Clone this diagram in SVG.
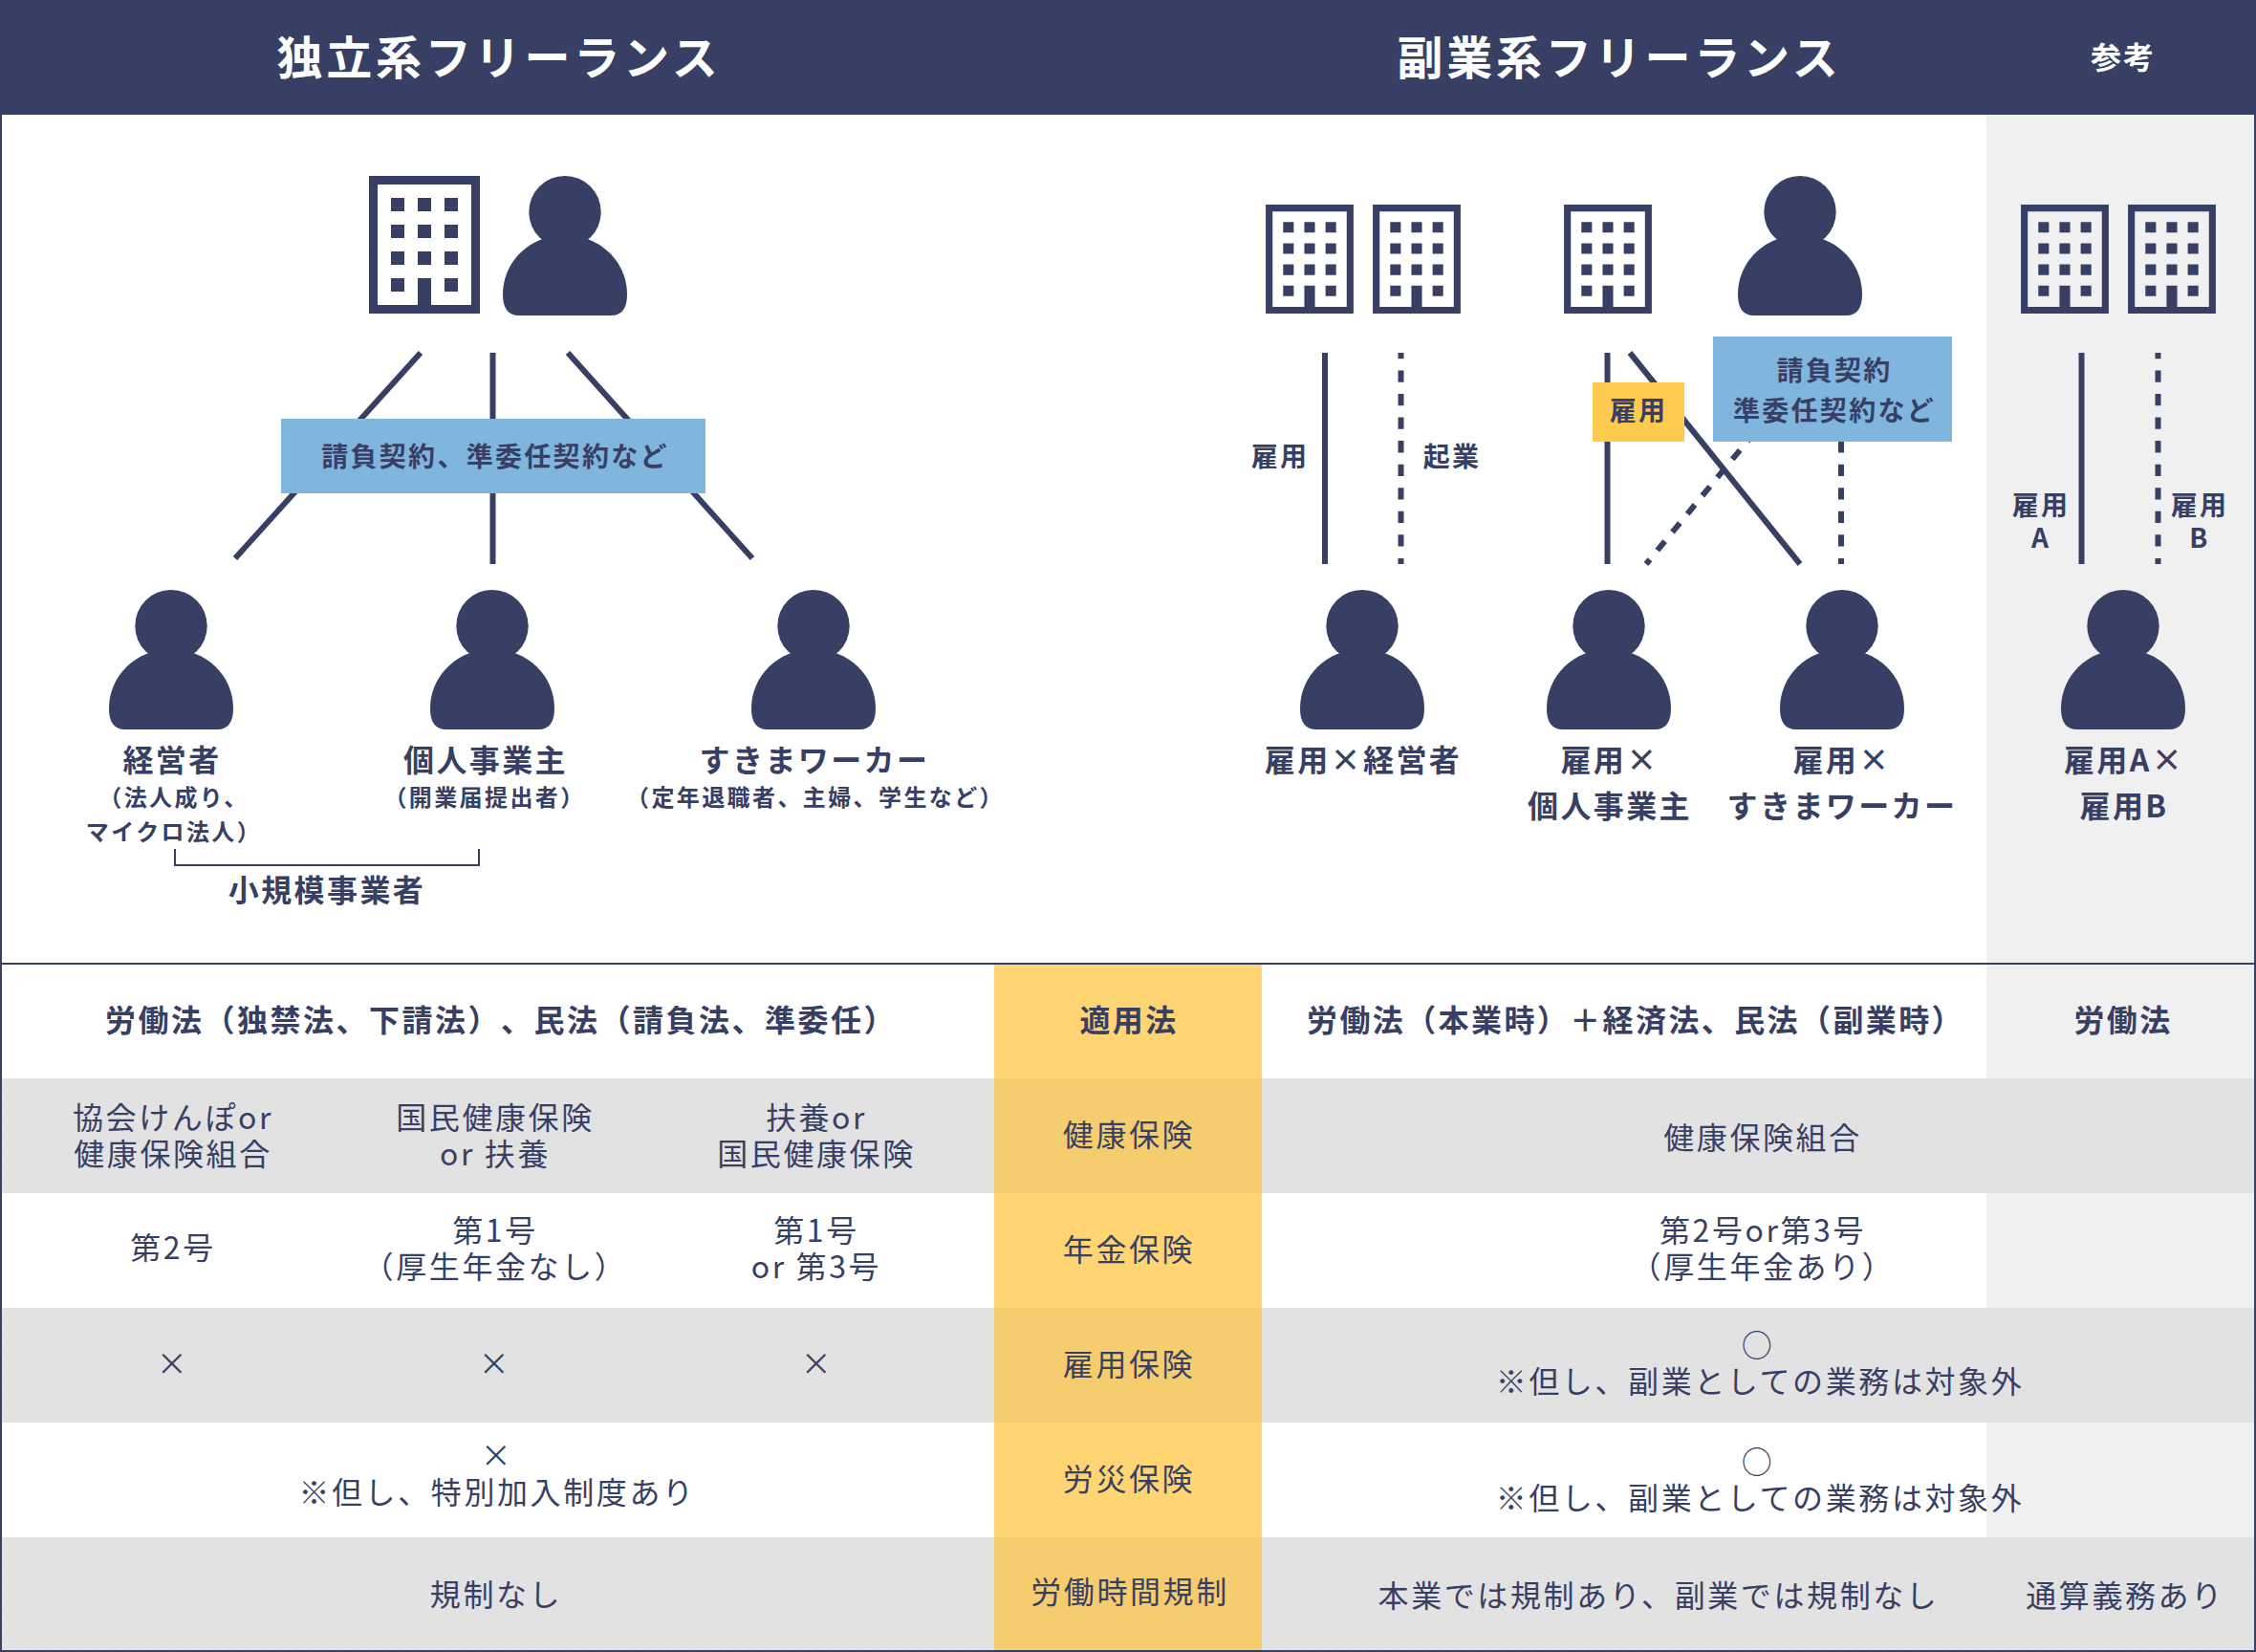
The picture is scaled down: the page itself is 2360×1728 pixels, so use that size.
<svg xmlns="http://www.w3.org/2000/svg" width="2360" height="1728" viewBox="0 0 2360 1728">
<style>
text{font-family:"Noto Sans CJK JP","Noto Sans",sans-serif;fill:#383f65;text-anchor:middle;dominant-baseline:central;text-spacing-trim:space-all}
.t1{font-size:48px;font-weight:700;fill:#fff;letter-spacing:3.8px}
.t2{font-size:32px;font-weight:700;fill:#fff;letter-spacing:2px}
.b{font-size:32px;font-weight:700;letter-spacing:2.4px}
.m{font-size:28px;font-weight:700;letter-spacing:2.3px}
.s{font-size:24px;font-weight:700;letter-spacing:2.4px}
.r{font-size:32px;font-weight:400;letter-spacing:2.6px}
.ln{stroke:#383f65;stroke-width:6;fill:none}
.da{stroke-dasharray:12.28 12.28;stroke-dashoffset:6.14}
.ic{fill:#383f65}
.band{fill:#e2e2e2}
.dots{fill:url(#dots)}
.yb{fill:#f6cd6e}
</style>
<defs>
<pattern id="dots" width="16" height="16" patternUnits="userSpaceOnUse">
<rect x="3" y="3" width="1" height="1" fill="#cdcdcd"/>
<rect x="11" y="11" width="1" height="1" fill="#cdcdcd"/>
</pattern>
<symbol id="person" overflow="visible" viewBox="-65 0 130 146" width="130" height="146">
<circle cx="0" cy="37.7" r="37.7"/>
<path d="M-65 124C-65 90-37 62 0 62C37 62 65 90 65 124C65 138 60 146 48 146L-48 146C-60 146-65 138-65 124Z"/>
</symbol>
<symbol id="bld" overflow="visible" viewBox="0 0 116 144" width="116" height="144">
<path fill-rule="evenodd" d="M0 0H116V144H0ZM9 9V135H51V107H65V135H107V9Z"/>
<path d="M23 23h14v14h-14zM51 23h14v14h-14zM79 23h14v14h-14zM23 51h14v14h-14zM51 51h14v14h-14zM79 51h14v14h-14zM23 79h14v14h-14zM51 79h14v14h-14zM79 79h14v14h-14zM23 107h14v14h-14zM79 107h14v14h-14z"/>
</symbol>
</defs>
<rect width="2360" height="1728" fill="#fff"/>
<g id="backgrounds">
<rect x="2078" y="120" width="282" height="1608" fill="#f0f0f0"/>
<rect class="band" x="0" y="1128" width="2360" height="120"/>
<rect class="band" x="0" y="1368" width="2360" height="120"/>
<rect class="band" x="0" y="1608" width="2360" height="120"/>
<rect class="dots" x="0" y="1128" width="2360" height="120"/>
<rect class="dots" x="0" y="1368" width="2360" height="120"/>
<rect class="dots" x="0" y="1608" width="2360" height="120"/>
<rect x="1040" y="1008" width="280" height="720" fill="#fed572"/>
<rect class="yb" x="1040" y="1128" width="280" height="120"/>
<rect class="yb" x="1040" y="1368" width="280" height="120"/>
<rect class="yb" x="1040" y="1608" width="280" height="120"/>
<rect x="0" y="0" width="2360" height="120" fill="#383f65"/>
<path d="M1 120V1727H2359V120M0 1008H2360" fill="none" stroke="#383f65" stroke-width="2"/>
</g>
<g id="connectors">
<path class="ln" d="M440 369L246 584M515.5 369V590M594 369L787 584"/>
<path class="ln" d="M1386 369V590M1681.5 369V590M1705 369L1883 590M2177.5 369V590"/>
<path class="ln da" d="M1465.5 369V590M1926 369V590M2257.5 369V590"/>
<path class="ln" style="stroke-dasharray:12.35 12.35;stroke-dashoffset:6.17" d="M1722 590L1904 369"/>
<path d="M183 888V905H501V888" fill="none" stroke="#383f65" stroke-width="2"/>
</g>
<g id="header">
<text class="t1" x="522" y="57">独立系フリーランス</text>
<text class="t1" x="1694" y="57">副業系フリーランス</text>
<text class="t2" x="2221" y="58">参考</text>
</g>
<g id="independent-employer" class="ic"><use href="#bld" x="386" y="184"/><use href="#person" x="526" y="184"/></g>
<g id="contract-box-1"><rect x="294" y="438" width="444" height="78" fill="#80b5de"/><text class="m" x="518" y="476">請負契約、準委任契約など</text></g>
<g id="person-keieisha" class="ic"><use href="#person" x="114" y="617"/></g>
<g id="person-kojin" class="ic"><use href="#person" x="450" y="617"/></g>
<g id="person-sukima" class="ic"><use href="#person" x="786" y="617"/></g>
<g id="labels-independent">
<text class="b" x="180" y="793">経営者</text>
<text class="s" x="182" y="832">（法人成り、</text>
<text class="s" x="182" y="868">マイクロ法人）</text>
<text class="b" x="508" y="793">個人事業主</text>
<text class="s" x="507" y="832">（開業届提出者）</text>
<text class="b" x="852" y="793">すきまワーカー</text>
<text class="s" x="853" y="832">（定年退職者、主婦、学生など）</text>
<text class="b" x="342" y="929">小規模事業者</text>
</g>
<g id="side-buildings" class="ic">
<use href="#bld" x="1324" y="214" width="92" height="114"/>
<use href="#bld" x="1436" y="214" width="92" height="114"/>
<use href="#bld" x="1636" y="214" width="92" height="114"/>
<use href="#person" x="1818" y="184"/>
<use href="#bld" x="2114" y="214" width="92" height="114"/>
<use href="#bld" x="2226" y="214" width="92" height="114"/>
</g>
<g id="contract-box-2"><rect x="1792" y="352" width="250" height="110" fill="#80b5de"/><text class="m" x="1919" y="386">請負契約</text><text class="m" x="1919" y="428">準委任契約など</text></g>
<g id="employment-box"><rect x="1666" y="400" width="96" height="62" fill="#fecb4e"/><text class="m" x="1714" y="428">雇用</text></g>
<g id="line-labels">
<text class="m" x="1339" y="476">雇用</text>
<text class="m" x="1519" y="476">起業</text>
<text class="m" x="2135" y="527">雇用</text>
<text class="m" x="2135" y="561">A</text>
<text class="m" x="2301" y="527">雇用</text>
<text class="m" x="2301" y="561">B</text>
</g>
<g id="side-people" class="ic">
<use href="#person" x="1360" y="617"/>
<use href="#person" x="1618" y="617"/>
<use href="#person" x="1862" y="617"/>
<use href="#person" x="2156" y="617"/>
</g>
<g id="labels-side">
<text class="b" x="1426" y="793">雇用×経営者</text>
<text class="b" x="1684" y="793">雇用×</text>
<text class="b" x="1684" y="841">個人事業主</text>
<text class="b" x="1927" y="793">雇用×</text>
<text class="b" x="1927" y="841">すきまワーカー</text>
<text class="b" x="2222" y="793">雇用A×</text>
<text class="b" x="2222" y="841">雇用B</text>
</g>
<g id="table">
<text class="b" x="524" y="1065" style="letter-spacing:2.5px">労働法（独禁法、下請法）、民法（請負法、準委任）</text>
<text class="b" x="1181" y="1065">適用法</text>
<text class="b" x="1711" y="1065">労働法（本業時）＋経済法、民法（副業時）</text>
<text class="b" x="2221" y="1065">労働法</text>
<text class="r" x="181" y="1167">協会けんぽor</text>
<text class="r" x="181" y="1205">健康保険組合</text>
<text class="r" x="518" y="1167">国民健康保険</text>
<text class="r" x="518" y="1205">or 扶養</text>
<text class="r" x="854" y="1167">扶養or</text>
<text class="r" x="854" y="1205">国民健康保険</text>
<text class="r" x="1181" y="1185">健康保険</text>
<text class="r" x="1844" y="1188">健康保険組合</text>
<text class="r" x="181" y="1303">第2号</text>
<text class="r" x="518" y="1285">第1号</text>
<text class="r" x="518" y="1323">（厚生年金なし）</text>
<text class="r" x="854" y="1285">第1号</text>
<text class="r" x="854" y="1323">or 第3号</text>
<text class="r" x="1181" y="1305">年金保険</text>
<text class="r" x="1844" y="1285">第2号or第3号</text>
<text class="r" x="1844" y="1323">（厚生年金あり）</text>
<text class="r" x="181" y="1424">×</text>
<text class="r" x="518" y="1424">×</text>
<text class="r" x="855" y="1424">×</text>
<text class="r" x="1181" y="1425">雇用保険</text>
<text class="r" x="1839" y="1405">○</text>
<text class="r" x="1841" y="1443">※但し、副業としての業務は対象外</text>
<text class="r" x="520" y="1520">×</text>
<text class="r" x="520" y="1559">※但し、特別加入制度あり</text>
<text class="r" x="1181" y="1545">労災保険</text>
<text class="r" x="1839" y="1527">○</text>
<text class="r" x="1841" y="1565">※但し、副業としての業務は対象外</text>
<text class="r" x="519" y="1666">規制なし</text>
<text class="r" x="1182" y="1663">労働時間規制</text>
<text class="r" x="1735" y="1667">本業では規制あり、副業では規制なし</text>
<text class="r" x="2223" y="1667">通算義務あり</text>
</g>
</svg>
